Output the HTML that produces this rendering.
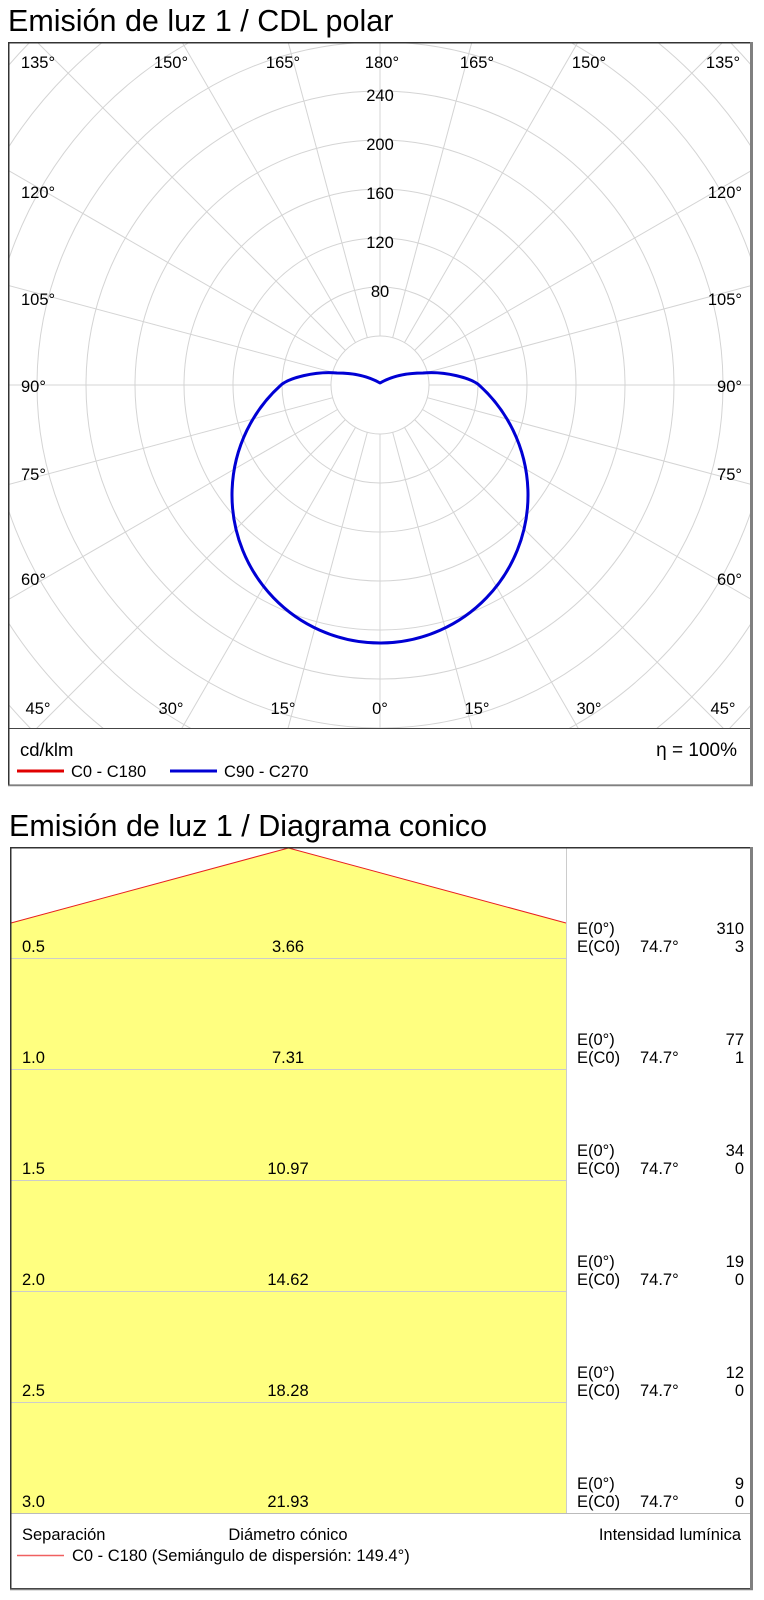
<!DOCTYPE html>
<html>
<head>
<meta charset="utf-8">
<style>
  html,body{margin:0;padding:0;background:#fff;}
  svg{display:block;}
  text{font-family:"Liberation Sans", Arial, sans-serif; fill:#000;}
</style>
</head>
<body>
<svg width="764" height="1600" viewBox="0 0 764 1600" xmlns="http://www.w3.org/2000/svg">
  <defs>
    <clipPath id="polclip"><rect x="9" y="43" width="742" height="685"/></clipPath>
  </defs>

  <!-- Title 1 -->
  <text x="8" y="31" font-size="30.5">Emisión de luz 1 / CDL polar</text>

  <!-- Polar grid -->
  <g clip-path="url(#polclip)" stroke="#d4d4d4" stroke-width="1" fill="none">
    <circle cx="380" cy="385" r="49"/>
    <circle cx="380" cy="385" r="98"/>
    <circle cx="380" cy="385" r="147"/>
    <circle cx="380" cy="385" r="196"/>
    <circle cx="380" cy="385" r="245"/>
    <circle cx="380" cy="385" r="294"/>
    <circle cx="380" cy="385" r="343"/>
    <circle cx="380" cy="385" r="392"/>
    <circle cx="380" cy="385" r="441"/>
    <circle cx="380" cy="385" r="490"/>
    <circle cx="380" cy="385" r="539"/>
    <g>
      <line x1="380" y1="434" x2="380" y2="1100" transform="rotate(0 380 385)"/>
      <line x1="380" y1="434" x2="380" y2="1100" transform="rotate(15 380 385)"/>
      <line x1="380" y1="434" x2="380" y2="1100" transform="rotate(30 380 385)"/>
      <line x1="380" y1="434" x2="380" y2="1100" transform="rotate(45 380 385)"/>
      <line x1="380" y1="434" x2="380" y2="1100" transform="rotate(60 380 385)"/>
      <line x1="380" y1="434" x2="380" y2="1100" transform="rotate(75 380 385)"/>
      <line x1="380" y1="434" x2="380" y2="1100" transform="rotate(90 380 385)"/>
      <line x1="380" y1="434" x2="380" y2="1100" transform="rotate(105 380 385)"/>
      <line x1="380" y1="434" x2="380" y2="1100" transform="rotate(120 380 385)"/>
      <line x1="380" y1="434" x2="380" y2="1100" transform="rotate(135 380 385)"/>
      <line x1="380" y1="434" x2="380" y2="1100" transform="rotate(150 380 385)"/>
      <line x1="380" y1="434" x2="380" y2="1100" transform="rotate(165 380 385)"/>
      <line x1="380" y1="434" x2="380" y2="1100" transform="rotate(180 380 385)"/>
      <line x1="380" y1="434" x2="380" y2="1100" transform="rotate(195 380 385)"/>
      <line x1="380" y1="434" x2="380" y2="1100" transform="rotate(210 380 385)"/>
      <line x1="380" y1="434" x2="380" y2="1100" transform="rotate(225 380 385)"/>
      <line x1="380" y1="434" x2="380" y2="1100" transform="rotate(240 380 385)"/>
      <line x1="380" y1="434" x2="380" y2="1100" transform="rotate(255 380 385)"/>
      <line x1="380" y1="434" x2="380" y2="1100" transform="rotate(270 380 385)"/>
      <line x1="380" y1="434" x2="380" y2="1100" transform="rotate(285 380 385)"/>
      <line x1="380" y1="434" x2="380" y2="1100" transform="rotate(300 380 385)"/>
      <line x1="380" y1="434" x2="380" y2="1100" transform="rotate(315 380 385)"/>
      <line x1="380" y1="434" x2="380" y2="1100" transform="rotate(330 380 385)"/>
      <line x1="380" y1="434" x2="380" y2="1100" transform="rotate(345 380 385)"/>
    </g>
  </g>

  <!-- Radial value labels -->
  <g font-size="16.5" text-anchor="middle">
    <text x="380" y="101">240</text>
    <text x="380" y="150">200</text>
    <text x="380" y="199">160</text>
    <text x="380" y="248">120</text>
    <text x="380" y="297">80</text>
  </g>

  <!-- Angle labels -->
  <g font-size="16.5" text-anchor="middle">
    <text x="38" y="68">135°</text>
    <text x="171" y="68">150°</text>
    <text x="283" y="68">165°</text>
    <text x="382" y="68">180°</text>
    <text x="477" y="68">165°</text>
    <text x="589" y="68">150°</text>
    <text x="723" y="68">135°</text>

    <text x="38" y="714">45°</text>
    <text x="171" y="714">30°</text>
    <text x="283" y="714">15°</text>
    <text x="380" y="714">0°</text>
    <text x="477" y="714">15°</text>
    <text x="589" y="714">30°</text>
    <text x="723" y="714">45°</text>
  </g>
  <g font-size="16.5">
    <text x="21" y="198">120°</text>
    <text x="21" y="305">105°</text>
    <text x="21" y="392">90°</text>
    <text x="21" y="480">75°</text>
    <text x="21" y="585">60°</text>
  </g>
  <g font-size="16.5" text-anchor="end">
    <text x="742" y="198">120°</text>
    <text x="742" y="305">105°</text>
    <text x="742" y="392">90°</text>
    <text x="742" y="480">75°</text>
    <text x="742" y="585">60°</text>
  </g>

  <!-- Blue curve C90-C270 -->
  <path d="M 281 385 A 148 148 0 1 0 479 385 C 471 378, 445 371, 423 373 C 408 373, 392 376, 380 383 C 368 376, 352 373, 337 373 C 315 371, 289 378, 281 385 Z"
        fill="none" stroke="#0000d4" stroke-width="3" stroke-linejoin="round"/>

  <!-- Top box borders -->
  <line x1="8" y1="728.5" x2="752" y2="728.5" stroke="#444" stroke-width="1"/>
  <rect x="8.75" y="42.75" width="742" height="742.5" fill="none" stroke="#333" stroke-width="1.5"/>
  <line x1="751.5" y1="42" x2="751.5" y2="786" stroke="#808080" stroke-width="3"/>
  <line x1="8" y1="785.5" x2="753" y2="785.5" stroke="#808080" stroke-width="1.5"/>

  <!-- Top legend -->
  <text x="20" y="756" font-size="18.5">cd/klm</text>
  <text x="737" y="756" font-size="19" text-anchor="end">η = 100%</text>
  <line x1="17" y1="771" x2="64" y2="771" stroke="#e00000" stroke-width="3"/>
  <text x="71" y="777" font-size="16.5">C0 - C180</text>
  <line x1="170" y1="771" x2="217" y2="771" stroke="#0000d4" stroke-width="3"/>
  <text x="224" y="777" font-size="16.5">C90 - C270</text>

  <!-- Title 2 -->
  <text x="9" y="836" font-size="30.5">Emisión de luz 1 / Diagrama conico</text>

  <!-- Cone diagram -->
  <polygon points="11,923 288.5,848 566,923 566,1513 11,1513" fill="#ffff80"/>
  <polyline points="11,923 288.5,848 566,923" fill="none" stroke="#e82020" stroke-width="1"/>
  <g stroke="#cccccc" stroke-width="1">
    <line x1="11" y1="958.5" x2="566" y2="958.5"/>
    <line x1="11" y1="1069.5" x2="566" y2="1069.5"/>
    <line x1="11" y1="1180.5" x2="566" y2="1180.5"/>
    <line x1="11" y1="1291.5" x2="566" y2="1291.5"/>
    <line x1="11" y1="1402.5" x2="566" y2="1402.5"/>
    <line x1="11" y1="1513.5" x2="751" y2="1513.5" stroke="#bbbbbb"/>
    <line x1="566.5" y1="847" x2="566.5" y2="1513"/>
  </g>

  <g font-size="16.5">
    <!-- row 1 -->
    <text x="22" y="952">0.5</text>
    <text x="288" y="952" text-anchor="middle">3.66</text>
    <text x="577" y="934">E(0°)</text>
    <text x="744" y="934" text-anchor="end">310</text>
    <text x="577" y="952">E(C0)</text>
    <text x="640" y="952">74.7°</text>
    <text x="744" y="952" text-anchor="end">3</text>
    <!-- row 2 -->
    <text x="22" y="1063">1.0</text>
    <text x="288" y="1063" text-anchor="middle">7.31</text>
    <text x="577" y="1045">E(0°)</text>
    <text x="744" y="1045" text-anchor="end">77</text>
    <text x="577" y="1063">E(C0)</text>
    <text x="640" y="1063">74.7°</text>
    <text x="744" y="1063" text-anchor="end">1</text>
    <!-- row 3 -->
    <text x="22" y="1174">1.5</text>
    <text x="288" y="1174" text-anchor="middle">10.97</text>
    <text x="577" y="1156">E(0°)</text>
    <text x="744" y="1156" text-anchor="end">34</text>
    <text x="577" y="1174">E(C0)</text>
    <text x="640" y="1174">74.7°</text>
    <text x="744" y="1174" text-anchor="end">0</text>
    <!-- row 4 -->
    <text x="22" y="1285">2.0</text>
    <text x="288" y="1285" text-anchor="middle">14.62</text>
    <text x="577" y="1267">E(0°)</text>
    <text x="744" y="1267" text-anchor="end">19</text>
    <text x="577" y="1285">E(C0)</text>
    <text x="640" y="1285">74.7°</text>
    <text x="744" y="1285" text-anchor="end">0</text>
    <!-- row 5 -->
    <text x="22" y="1396">2.5</text>
    <text x="288" y="1396" text-anchor="middle">18.28</text>
    <text x="577" y="1378">E(0°)</text>
    <text x="744" y="1378" text-anchor="end">12</text>
    <text x="577" y="1396">E(C0)</text>
    <text x="640" y="1396">74.7°</text>
    <text x="744" y="1396" text-anchor="end">0</text>
    <!-- row 6 -->
    <text x="22" y="1507">3.0</text>
    <text x="288" y="1507" text-anchor="middle">21.93</text>
    <text x="577" y="1489">E(0°)</text>
    <text x="744" y="1489" text-anchor="end">9</text>
    <text x="577" y="1507">E(C0)</text>
    <text x="640" y="1507">74.7°</text>
    <text x="744" y="1507" text-anchor="end">0</text>
  </g>

  <!-- Bottom legend -->
  <g font-size="16.5">
    <text x="22" y="1540">Separación</text>
    <text x="288" y="1540" text-anchor="middle">Diámetro cónico</text>
    <text x="741" y="1540" text-anchor="end">Intensidad lumínica</text>
    <text x="72" y="1561">C0 - C180 (Semiángulo de dispersión: 149.4°)</text>
  </g>
  <line x1="17" y1="1555.5" x2="64" y2="1555.5" stroke="#f06060" stroke-width="1.5"/>

  <!-- Bottom box borders -->
  <rect x="10.75" y="847.75" width="740" height="741" fill="none" stroke="#333" stroke-width="1.5"/>
  <line x1="751.5" y1="847" x2="751.5" y2="1590" stroke="#808080" stroke-width="3"/>
  <line x1="10" y1="1589.5" x2="753" y2="1589.5" stroke="#808080" stroke-width="1.5"/>
</svg>
</body>
</html>
